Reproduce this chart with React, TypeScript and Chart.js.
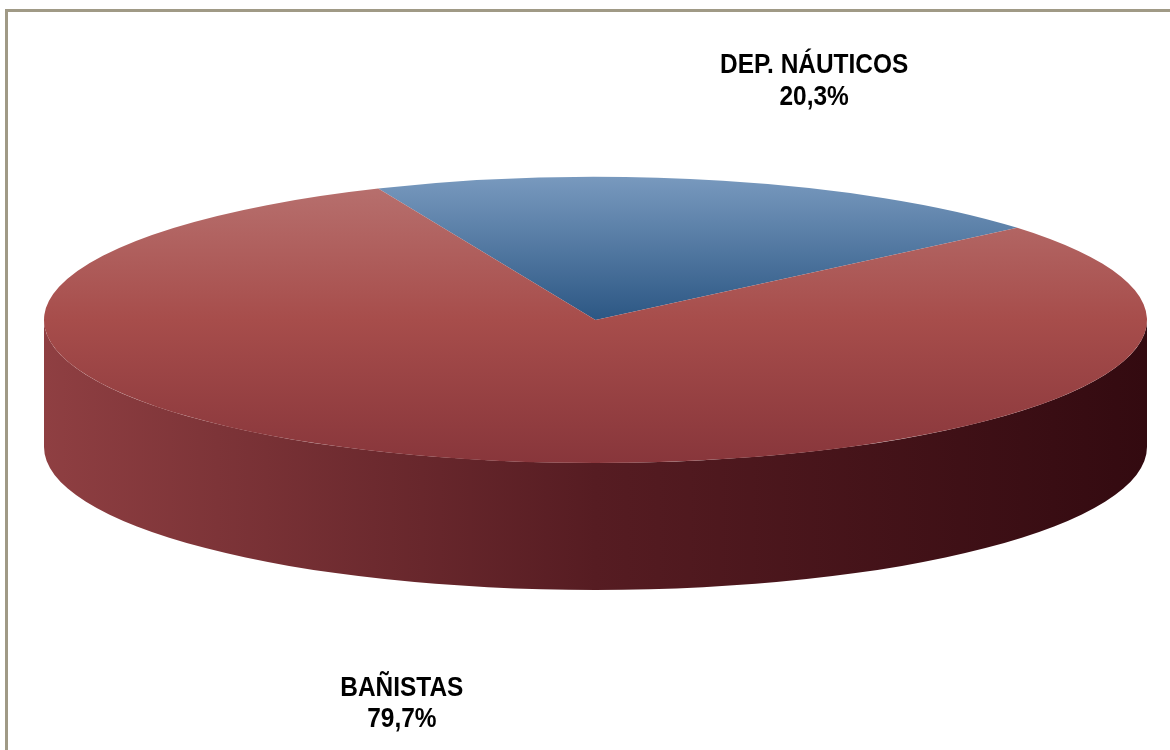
import { useEffect, useRef } from "react";
import { Chart, registerables } from "chart.js";

Chart.register(...registerables);

// ---- data ----
const categories = ["DEP. NÁUTICOS", "BAÑISTAS"];
const values = [20.3, 79.7];
const valueLabels = ["20,3%", "79,7%"];

// ---- styles ----
const topStops: [number, string][][] = [
  [[0, "#7899be"], [0.5, "#2c5784"], [1, "#1e3f66"]],
  [[0, "#b87270"], [0.5, "#a74d4b"], [1, "#88363b"]],
];
const sideColors = [
  ["#3a5f8a", "#1c3352", "#0f1f36"],
  ["#8f3f42", "#561c22", "#330a10"],
];

export default function App() {
  const ref = useRef<HTMLCanvasElement>(null);

  useEffect(() => {
    const canvas = ref.current!;
    const RADIUS = 551.5;
    const TILT = 143 / 551.5;
    const DEPTH = 127;
    const TWO_PI = Math.PI * 2;
    const LABEL_FX = 1.62;
    const LABEL_FY = 1.78;
    const LABEL_SHIFT_X = 12.5;
    const LABEL_SHIFT_Y = 9.4;
    const LINE_GAP = 31.5;

    const norm = (a: number) => ((a % TWO_PI) + TWO_PI) % TWO_PI;

    const pie3d = {
      id: "pie3d",
      beforeDatasetsDraw(chart: any) {
        const ctx = chart.ctx as CanvasRenderingContext2D;
        const meta = chart.getDatasetMeta(0);
        meta.data.forEach((arc: any, i: number) => {
          const { x, y, startAngle, endAngle, outerRadius } = arc.getProps(
            ["x", "y", "startAngle", "endAngle", "outerRadius"],
            true
          );
          const s = norm(startAngle);
          const e = s + (endAngle - startAngle);
          const ry = outerRadius * TILT;
          const ranges: [number, number][] = [];
          for (const base of [0, TWO_PI]) {
            const a0 = Math.max(s, base);
            const a1 = Math.min(e, base + Math.PI);
            if (a1 > a0) ranges.push([a0, a1]);
          }
          ranges.forEach(([a0, a1]) => {
            const g = ctx.createLinearGradient(x - outerRadius, 0, x + outerRadius, 0);
            const c = sideColors[i];
            g.addColorStop(0, c[0]);
            g.addColorStop(0.5, c[1]);
            g.addColorStop(1, c[2]);
            ctx.save();
            ctx.beginPath();
            ctx.ellipse(x, y, outerRadius, ry, 0, a0, a1, false);
            ctx.ellipse(x, y + DEPTH, outerRadius, ry, 0, a1, a0, true);
            ctx.closePath();
            ctx.fillStyle = g;
            ctx.fill();
            ctx.restore();
          });
        });
        const first = meta.data[0];
        ctx.save();
        ctx.translate(first.x, first.y);
        ctx.scale(1, TILT);
        ctx.translate(-first.x, -first.y);
      },
      afterDatasetsDraw(chart: any) {
        const ctx = chart.ctx as CanvasRenderingContext2D;
        ctx.restore();
        const meta = chart.getDatasetMeta(0);
        meta.data.forEach((arc: any, i: number) => {
          const { x, y, startAngle, endAngle, outerRadius } = arc.getProps(
            ["x", "y", "startAngle", "endAngle", "outerRadius"],
            true
          );
          const mid = (startAngle + endAngle) / 2;
          const lx = x + Math.cos(mid) * outerRadius * LABEL_FX + LABEL_SHIFT_X;
          const sn = Math.sin(mid);
          const ly = y + sn * outerRadius * TILT * LABEL_FY + (sn > 0 ? DEPTH : 0) + LABEL_SHIFT_Y;
          ctx.save();
          ctx.translate(lx, ly);
          ctx.scale(0.905, 1);
          ctx.fillStyle = "#000000";
          ctx.textAlign = "center";
          ctx.textBaseline = "middle";
          ctx.font = 'bold 27px "Liberation Sans Narrow", "Liberation Sans", Arial, sans-serif';
          ctx.fillText(categories[i], 0, -LINE_GAP / 2);
          ctx.fillText(valueLabels[i], 0, LINE_GAP / 2);
          ctx.restore();
        });
      },
    };

    const chart = new Chart(canvas, {
      type: "pie",
      data: {
        labels: categories,
        datasets: [
          {
            data: values,
            borderWidth: 0,
            radius: RADIUS,
            clip: false,
            backgroundColor: (c: any) => {
              const ch = c.chart;
              const area = ch.chartArea;
              const stops = topStops[c.dataIndex] || topStops[0];
              if (!area) return stops[1][1];
              const cy = (area.top + area.bottom) / 2;
              const g = ch.ctx.createLinearGradient(0, cy - RADIUS, 0, cy + RADIUS);
              stops.forEach(([o, col]) => g.addColorStop(o, col));
              return g;
            },
          } as any,
        ],
      },
      options: {
        animation: false,
        responsive: false,
        rotation: -23.2,
        layout: { padding: { left: 21, right: 0, top: 0, bottom: 110 } },
        plugins: {
          legend: { display: false },
          tooltip: { enabled: false },
        },
        events: [],
      },
      plugins: [pie3d],
    });
    return () => chart.destroy();
  }, []);

  return (
    <div style={{ position: "absolute", left: 0, top: 0, width: 1170, height: 750, overflow: "hidden", background: "#ffffff" }}>
      <div
        style={{
          position: "absolute",
          left: 5,
          top: 9,
          width: 1300,
          height: 900,
          borderLeft: "3px solid #a09a86",
          borderTop: "3px solid #a09a86",
          boxSizing: "border-box",
        }}
      />
      <canvas ref={ref} width={1170} height={750} style={{ position: "absolute", left: 0, top: 0, display: "block" }} />
    </div>
  );
}
